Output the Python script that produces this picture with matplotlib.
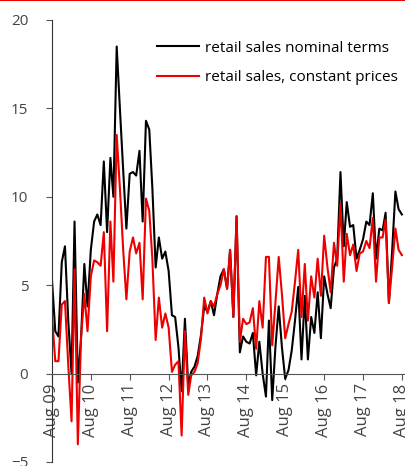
import numpy as np
import pandas as pd
import matplotlib
matplotlib.use("Agg")
import matplotlib.pyplot as plt
from matplotlib.lines import Line2D

plt.rcParams['font.family'] = ['Open Sans', 'DejaVu Sans']

# Месячные данные, Aug 09 - Aug 18
months = pd.date_range("2009-08-01", "2018-08-01", freq="MS")

nominal = [5.3, 2.4, 2.1, 6.3, 7.2, 3.0, 0.0, 8.6, -0.5, 2.0,
           6.2, 3.8, 7.0, 8.6, 9.0, 8.4, 12.0, 8.0, 12.2, 10.0,
           18.5, 15.0, 11.5, 8.2, 11.3, 11.4, 11.2, 12.6, 8.6, 14.3,
           13.8, 10.5, 6.0, 7.7, 6.5, 6.9, 5.8, 3.3, 3.2, 1.5,
           -1.0, 3.1, -0.7, 0.1, 0.4, 1.0, 2.2, 3.8, 3.5, 4.1,
           3.3, 4.5, 5.5, 5.9, 4.8, 7.0, 3.2, 8.9, 1.2, 2.1,
           1.8, 1.7, 2.3, -0.1, 1.8, 0.0, -1.3, 3.0, -1.5, 1.5,
           3.8, 1.5, -0.3, 0.2, 1.3, 3.0, 4.9, 0.8, 4.4, 0.8,
           3.2, 2.3, 4.6, 2.0, 5.5, 4.5, 3.7, 6.0, 6.5, 11.4,
           7.2, 9.7, 8.3, 8.4, 6.5, 7.0, 7.6, 8.6, 8.4, 10.2,
           6.5, 8.2, 8.1, 9.1, 4.0, 6.9, 10.3, 9.3, 9.0]

constant = [3.3, 0.7, 0.7, 3.9, 4.1, 0.5, -2.7, 5.9, -4.0, 2.0,
            4.5, 2.4, 5.5, 6.4, 6.3, 6.1, 8.0, 2.4, 8.6, 5.2,
            13.5, 10.5, 7.0, 4.2, 6.9, 7.7, 6.8, 7.4, 4.2, 9.9,
            9.2, 6.5, 1.9, 4.3, 2.6, 3.4, 2.6, 0.1, 0.5, 0.7,
            -3.5, 2.4, -1.2, -0.1, 0.1, 0.6, 2.0, 4.3, 3.4, 4.1,
            3.8, 4.5, 5.0, 5.9, 4.8, 7.0, 3.2, 8.9, 1.8, 3.1,
            2.8, 2.9, 3.7, 1.4, 4.1, 2.6, 6.6, 6.6, 1.6, 4.0,
            6.6, 4.5, 2.0, 2.8, 3.5, 5.2, 7.0, 3.2, 6.2, 3.0,
            5.5, 4.3, 6.5, 4.4, 7.8, 6.0, 4.6, 7.4, 6.1, 9.6,
            5.2, 7.9, 6.7, 7.3, 5.8, 6.8, 6.9, 7.5, 7.1, 8.8,
            5.2, 7.7, 7.7, 8.7, 4.0, 6.0, 8.2, 7.0, 6.7]

tick_dates = pd.date_range("2009-08-01", "2018-08-01", freq="12MS")
tick_labels = ["Aug " + d.strftime("%y") for d in tick_dates]

fig = plt.figure(figsize=(4.06, 4.66), dpi=100)
ax = fig.add_axes([0.128, 0.0086, 0.87, 0.9485])

ax.plot(months, nominal, color='black', lw=1.5, label='retail sales nominal terms')
ax.plot(months, constant, color='#ee0000', lw=1.5, label='retail sales, constant prices')

ax.set_ylim(-5, 20)
ax.set_yticks([-5, 0, 5, 10, 15, 20])
ax.set_xlim(pd.Timestamp("2009-08-01"), pd.Timestamp("2018-09-01"))
ax.set_xticks(tick_dates)
ax.set_xticklabels(tick_labels)

for s in ['top', 'right']:
    ax.spines[s].set_visible(False)
ax.spines['bottom'].set_position(('data', 0))
ax.spines['bottom'].set_color('#555555')
ax.spines['left'].set_color('#333333')
ax.tick_params(axis='both', direction='out', length=4, colors='#555555',
               labelcolor='#444444', labelsize=11)
ax.tick_params(axis='x', labelrotation=90, labelsize=12, pad=3)
ax.tick_params(axis='y', pad=13)

ax.legend(loc='upper right', bbox_to_anchor=(0.996, 0.967), frameon=False,
          fontsize=11, handlelength=2.8, handletextpad=0.35, labelspacing=0.95,
          borderaxespad=0)

# красная линия сверху
fig.add_artist(Line2D([0, 1], [0.999, 0.999], transform=fig.transFigure,
                      color='#ee0000', lw=1.5))

fig.savefig("out.png", dpi=100)
